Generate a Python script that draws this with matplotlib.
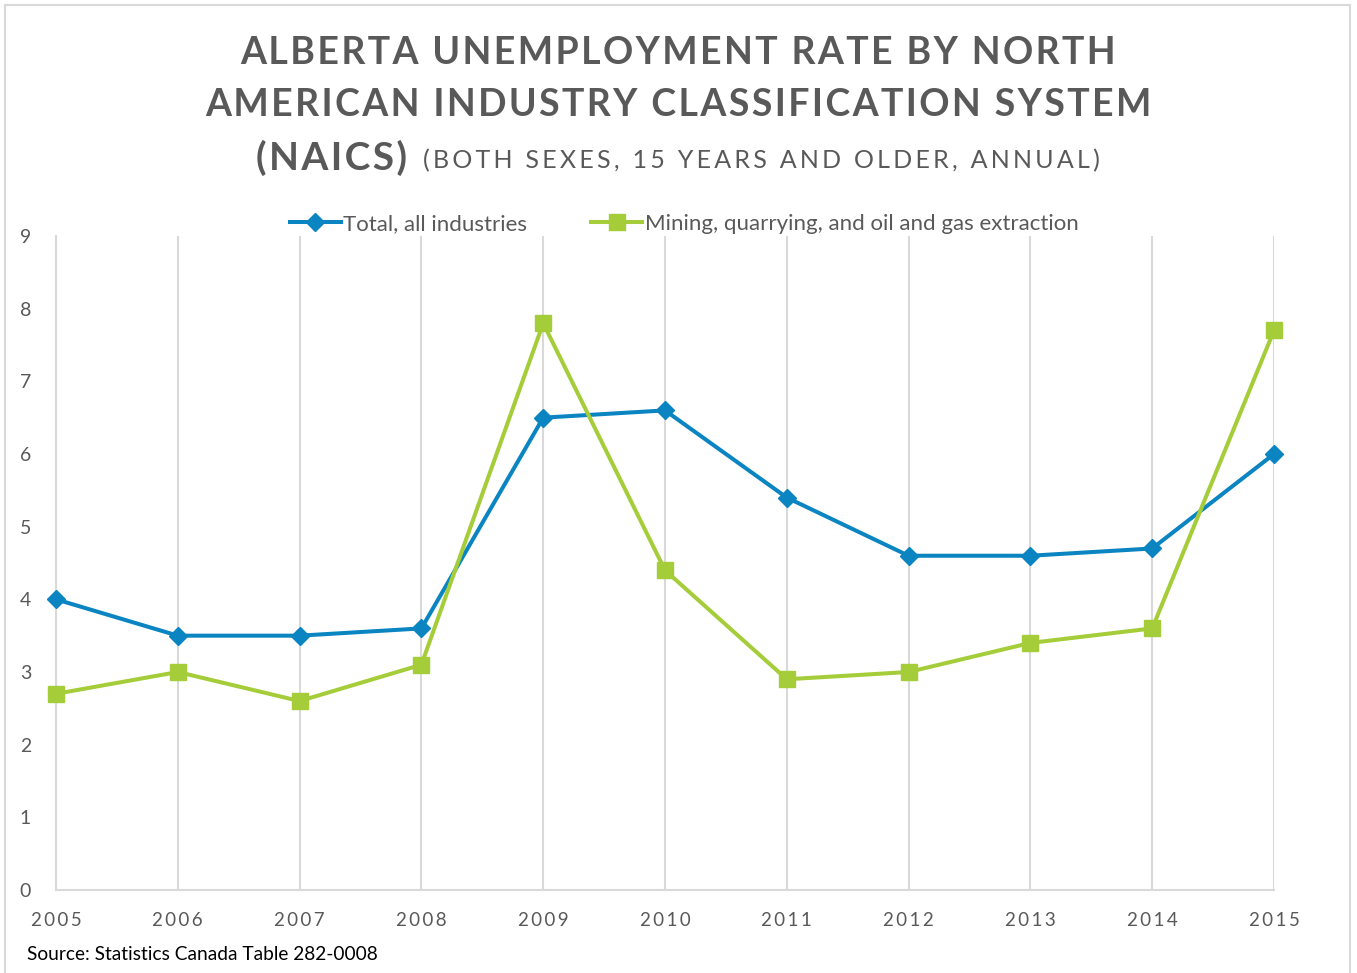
import matplotlib
matplotlib.use("Agg")
import matplotlib.pyplot as plt
from matplotlib.patches import Rectangle

years = [2005, 2006, 2007, 2008, 2009, 2010, 2011, 2012, 2013, 2014, 2015]
total_all = [4.0, 3.5, 3.5, 3.6, 6.5, 6.6, 5.4, 4.6, 4.6, 4.7, 6.0]
mining_oil_gas = [2.7, 3.0, 2.6, 3.1, 7.8, 4.4, 2.9, 3.0, 3.4, 3.6, 7.7]
y_ticks = list(range(0, 10))
series_names = ["Total, all industries", "Mining, quarrying, and oil and gas extraction"]

FONT = ["Lato", "DejaVu Sans"]
plt.rcParams["font.family"] = FONT
GREY = "#595959"
BLUE = "#0A85C2"
GREEN = "#A5CD39"
HAIR = "\u200a"
THIN = "\u2009"


def spaced(s, n=1, sep=HAIR):
    return (sep * n).join(s)


fig = plt.figure(figsize=(13.57, 9.73), dpi=100)
W, H = 1357, 973

# outer frame
fig.patches.append(Rectangle((5 / W, -0.01), (1350 - 5) / W, (973 - 5) / H + 0.01,
                             transform=fig.transFigure, fill=False,
                             edgecolor="#D9D9D9", linewidth=1.5, zorder=0))

ax = fig.add_axes([56 / W, (H - 890) / H, (1274 - 56) / W, (890 - 236) / H])
ax.set_xlim(years[0], years[-1])
ax.set_ylim(0, 9)

ax.plot(years, total_all, color=BLUE, linewidth=2.9, marker="D", markersize=9,
        clip_on=False, zorder=3, label=series_names[0])
ax.plot(years, mining_oil_gas, color=GREEN, linewidth=2.9, marker="s", markersize=11,
        clip_on=False, zorder=4, label=series_names[1])

ax.set_xticks(years)
ax.set_xticklabels([spaced(str(y), 1, THIN) for y in years], color=GREY, fontsize=13.5)
ax.set_yticks(y_ticks)
ax.set_yticklabels([str(v) for v in y_ticks], color=GREY, fontsize=14)
ax.tick_params(axis="both", length=0)
ax.tick_params(axis="x", pad=16)
ax.tick_params(axis="y", pad=22)
for lab in ax.get_yticklabels():
    lab.set_horizontalalignment("center")

ax.grid(axis="x", color="#D9D9D9", linewidth=1.5)
ax.grid(axis="y", visible=False)
for side in ["top", "right"]:
    ax.spines[side].set_visible(False)
for side in ["left", "bottom"]:
    ax.spines[side].set_color("#D9D9D9")
    ax.spines[side].set_linewidth(1.5)

leg = ax.legend(loc="center", bbox_to_anchor=(0.5 + 19 / 1218, 1 + 12 / 654), ncol=2,
                frameon=False, fontsize=16, handlelength=2.3, columnspacing=2.9,
                handletextpad=0.1, labelcolor=GREY, borderpad=0)

# title
fig.text(678 / W, 1 - 53 / H, spaced("ALBERTA UNEMPLOYMENT RATE BY NORTH"),
         ha="center", va="center", fontsize=27, fontweight="bold", color=GREY)
fig.text(678 / W, 1 - 105 / H, spaced("AMERICAN INDUSTRY CLASSIFICATION SYSTEM"),
         ha="center", va="center", fontsize=27, fontweight="bold", color=GREY)

fig.canvas.draw()
r = fig.canvas.get_renderer()
t1 = fig.text(0, 1 - 158 / H, spaced("(NAICS)"), ha="left", va="center",
              fontsize=28, fontweight="bold", color=GREY)
t2 = fig.text(0, 1 - 161 / H, spaced("(BOTH SEXES, 15 YEARS AND OLDER, ANNUAL)", 2),
              ha="left", va="center", fontsize=18, color=GREY)
w1 = t1.get_window_extent(r).width
w2 = t2.get_window_extent(r).width
gap = 16
x0 = 678 - (w1 + gap + w2) / 2
t1.set_x(x0 / W)
t2.set_x((x0 + w1 + gap) / W)

fig.text(27 / W, 1 - 955 / H, "Source: Statistics Canada Table 282-0008",
         ha="left", va="center", fontsize=13.8, color="black")

fig.savefig("out.png", dpi=100)
